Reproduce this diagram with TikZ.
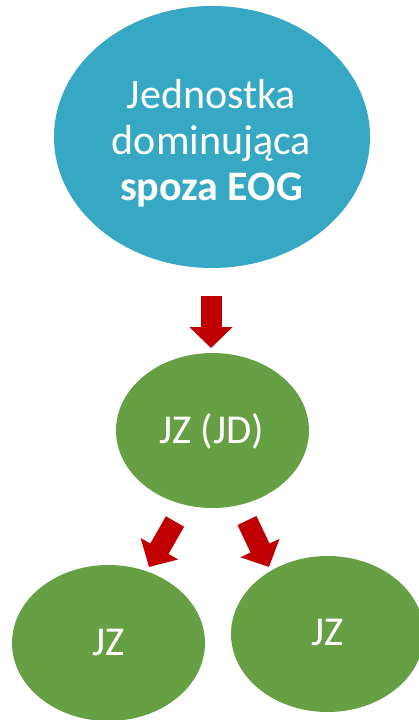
\documentclass[tikz,border=0pt]{standalone}
\usepackage{fontspec}
\setmainfont{Carlito}
\usetikzlibrary{shapes.geometric,arrows.meta}
\definecolor{entityteal}{HTML}{36A8C3}
\definecolor{entitygreen}{HTML}{67A044}
\definecolor{flowred}{HTML}{C00000}
\begin{document}
\begin{tikzpicture}[x=1pt,y=-1pt,
  blob/.style={ellipse, inner sep=0pt, draw=none},
  lbl/.style={text=white, inner sep=0pt, align=center},
  flow/.style={draw=flowred, line width=21pt, line cap=butt,
    -{Triangle[length=21pt 0 0, width=42pt 0 0, fill=flowred]}}
]
\useasboundingbox (0,0) rectangle (418,720);

% entities
\node[blob, fill=entityteal, minimum width=316pt, minimum height=262pt] (parent) at (212,137) {};
\node[blob, fill=entitygreen, minimum width=193pt, minimum height=155pt] (mid) at (212.5,430.5) {};
\node[blob, fill=entitygreen, minimum width=193pt, minimum height=156pt] (left) at (108.5,643) {};
\node[blob, fill=entitygreen, minimum width=193pt, minimum height=156pt] (right) at (327.5,634) {};

% labels
\node[lbl, font=\fontsize{42}{46}\selectfont] (parenttxt) at (211.5,143)
  {Jednostka\\dominująca\\\textbf{spoza EOG}};
\node[lbl, anchor=base, font=\fontsize{41}{46}\selectfont] (midtxt) at (211.5,443) {JZ (JD)};
\node[lbl, anchor=base, font=\fontsize{41}{46}\selectfont] (lefttxt) at (108.5,655) {JZ};
\node[lbl, anchor=base, font=\fontsize{41}{46}\selectfont] (righttxt) at (327.5,645) {JZ};

% arrow end points
\coordinate (p1) at (211,296);
\coordinate (m1) at (211,348);
\coordinate (p2) at (175,521.5);
\coordinate (l2) at (149,567);
\coordinate (p3) at (247,520.5);
\coordinate (r3) at (269,567);

\draw[flow] (p1) -- (m1);
\draw[flow] (p2) -- (l2);
\draw[flow] (p3) -- (r3);
\end{tikzpicture}
\end{document}
